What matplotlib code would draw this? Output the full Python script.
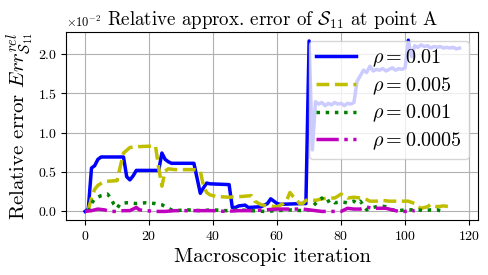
import matplotlib
matplotlib.use('Agg')
import matplotlib.pyplot as plt
from matplotlib.ticker import MultipleLocator

plt.rcParams['font.family'] = 'serif'
plt.rcParams['font.serif'] = ['cmr10']
plt.rcParams['mathtext.fontset'] = 'cm'
plt.rcParams['axes.formatter.use_mathtext'] = True

# values read in units of 1e-2
blue_x = [0, 1, 2, 3, 4, 5, 12, 13, 14, 15, 16, 23, 24, 25, 26, 27, 34, 35, 36, 37,
          38, 39, 45, 46, 47, 48, 50, 51, 55, 57, 58, 59, 60, 61, 68, 69, 70, 71,
          72, 73, 74, 75, 76, 77, 78, 79, 80, 81, 82, 83, 84, 85, 86, 87, 88, 89,
          90, 91, 92, 93, 94, 95, 96, 97, 98, 99, 100, 101, 102, 103, 104, 105,
          106, 107, 108, 109, 110, 111, 112, 113, 114, 115, 116, 117]
blue_y = [0, 0.03, 0.55, 0.58, 0.66, 0.69, 0.69, 0.44, 0.40, 0.45, 0.52, 0.52, 0.74, 0.66, 0.63, 0.61, 0.61, 0.42, 0.23, 0.30,
          0.36, 0.35, 0.34, 0.05, 0.05, 0.07, 0.08, 0.05, 0.06, 0.10, 0.16, 0.13, 0.10, 0.09, 0.10, 0.10, 2.16, 0.78,
          1.39, 1.36, 1.38, 1.34, 1.37, 1.35, 1.38, 1.36, 1.37, 1.34, 1.37, 1.36, 1.38, 1.65, 1.72, 1.79, 1.76, 1.84,
          1.78, 1.80, 1.79, 1.81, 1.78, 1.80, 1.82, 1.79, 1.81, 1.80, 1.82, 2.17, 1.96, 2.10, 2.08, 2.11,
          2.09, 2.10, 2.07, 2.09, 2.08, 2.09, 2.07, 2.08, 2.07, 2.08, 2.06, 2.07]

yel_x = [1, 2, 3, 4, 6, 10, 11, 12, 14, 16, 22, 23, 24, 25, 26, 28, 34, 36, 37, 38,
         39, 41, 45, 49, 52, 53, 55, 57, 60, 62, 63, 64, 65, 66, 67, 68, 69, 70, 72, 74,
         76, 78, 80, 82, 84, 86, 88, 89, 91, 93, 95, 97, 99, 101, 103, 104, 105, 107, 108, 109,
         110, 112, 114]
yel_y = [0.02, 0.17, 0.28, 0.33, 0.38, 0.39, 0.57, 0.74, 0.81, 0.82, 0.83, 0.55, 0.32, 0.51, 0.54, 0.53, 0.53, 0.51, 0.32, 0.24,
         0.21, 0.19, 0.18, 0.19, 0.2, 0.13, 0.085, 0.07, 0.06, 0.1, 0.14, 0.24, 0.19, 0.15, 0.1, 0.1, 0.14, 0.15, 0.14, 0.16,
         0.17, 0.17, 0.22, 0.17, 0.18, 0.17, 0.15, 0.13, 0.13, 0.14, 0.13, 0.13, 0.13, 0.13, 0.1, 0.06, 0.04, 0.06, 0.09, 0.07,
         0.06, 0.07, 0.06]

grn_x = [1, 2, 3, 5, 7, 8, 9, 10, 11, 13, 16, 19, 22, 24, 25, 26, 27, 28, 32, 36,
         40, 44, 48, 52, 56, 60, 64, 68, 70, 71, 72, 73, 74, 75, 77, 78, 80, 82, 84, 85,
         86, 88, 90, 92, 94, 96, 98, 100, 102, 104, 106, 108, 110, 111]
grn_y = [0.0, 0.1, 0.16, 0.2, 0.22, 0.17, 0.09, 0.04, 0.1, 0.11, 0.1, 0.11, 0.1, 0.085, 0.06, 0.04, 0.02, 0.01, 0.02, 0.01,
         0.02, 0.01, 0.02, 0.01, 0.0, 0.01, 0.02, 0.01, 0.02, 0.06, 0.1, 0.14, 0.17, 0.11, 0.15, 0.11, 0.12, 0.11, 0.13, 0.1,
         0.13, 0.02, 0.05, 0.07, 0.06, 0.02, 0.01, 0.02, 0.02, 0.02, 0.01, 0.02, 0.02, 0.01]

mag_x = [0, 2, 4, 6, 8, 10, 12, 14, 15, 16, 17, 19, 22, 25, 28, 32, 36, 40, 44, 48,
         52, 56, 60, 64, 68, 70, 72, 74, 77, 80, 82, 84, 86, 88, 90, 92, 94, 96, 98, 100, 103]
mag_y = [0.0, 0.01, 0.03, 0.02, 0.0, 0.0, 0.01, 0.01, 0.03, 0.05, 0.02, 0.01, 0.0, 0.0, 0.01, 0.01, 0.01, 0.01, 0.0, 0.01,
         0.01, 0.02, 0.03, 0.03, 0.03, 0.02, 0.01, 0.0, 0.0, 0.0, 0.04, 0.03, 0.03, 0.055, 0.04, 0.04, 0.04, 0.02, 0.0, 0.0, 0.01]

series = [
    (blue_x, blue_y, 'b-', r'$\rho = 0.01$'),
    (yel_x, yel_y, 'y--', r'$\rho = 0.005$'),
    (grn_x, grn_y, 'g:', r'$\rho = 0.001$'),
    (mag_x, mag_y, 'm-.', r'$\rho = 0.0005$'),
]

fig, ax = plt.subplots(figsize=(4.88, 2.75), dpi=100)
fig.subplots_adjust(left=0.136, right=0.98, top=0.885, bottom=0.2)

for xs, ys, fmt, lab in series:
    ax.plot(xs, [v * 1e-2 for v in ys], fmt, linewidth=2.5, label=lab)

ax.yaxis.set_major_locator(MultipleLocator(0.005))
ax.ticklabel_format(style='sci', axis='y', scilimits=(0, 0))
ax.grid(True)
ax.tick_params(labelsize=10)
ax.yaxis.get_offset_text().set_fontsize(9)
ax.set_title(r'Relative approx. error of $\mathcal{S}_{11}$ at point A', fontsize=13.6, y=1.0, pad=5)
ax.set_xlabel('Macroscopic iteration', fontsize=15)
ax.set_ylabel(r'Relative error $Err^{rel}_{\mathcal{S}_{11}}$', fontsize=15, labelpad=1)
ax.legend(loc='upper right', fontsize=14.5, handlelength=2.0, labelspacing=0.3,
          borderpad=0.35, borderaxespad=0.45)

plt.savefig('out.png', dpi=100)
